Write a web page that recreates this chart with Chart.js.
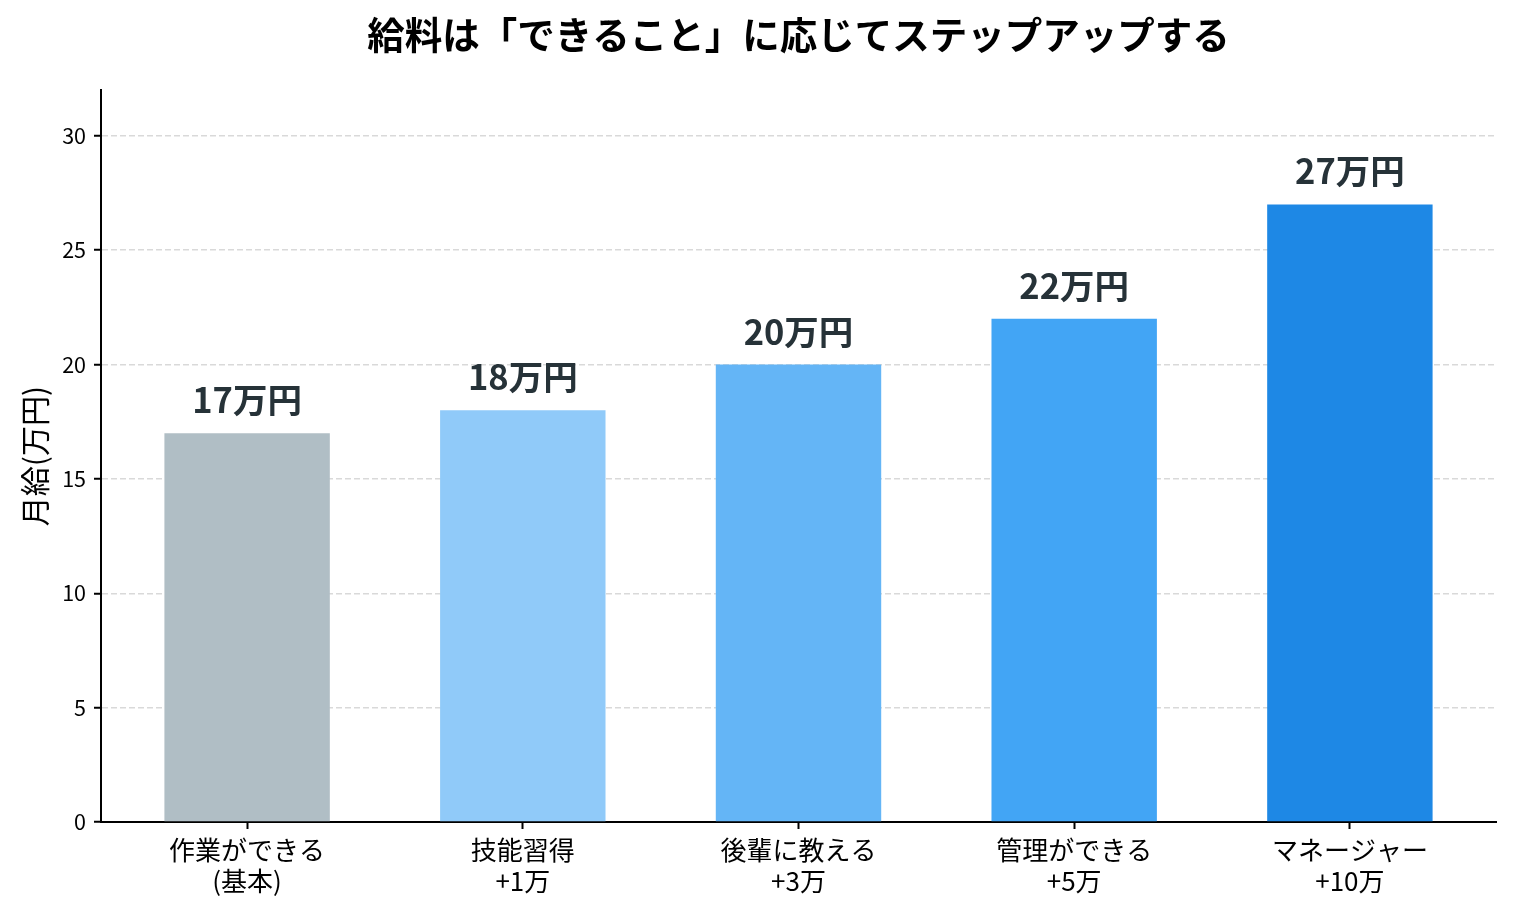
<!DOCTYPE html>
<html>
<head>
<meta charset="utf-8">
<script src="https://cdn.jsdelivr.net/npm/chart.js@4.4.1/dist/chart.umd.min.js"></script>
<style>
html,body{margin:0;padding:0;background:#fff;}
#wrap{width:1513px;height:914px;}
</style>
</head>
<body>
<div id="wrap"><canvas id="c" width="1513" height="914"></canvas></div>
<script>
const titleText = '給料は「できること」に応じてステップアップする';
const yAxisTitle = '月給(万円)';
const categories = [
  ['作業ができる', '(基本)'],
  ['技能習得', '+1万'],
  ['後輩に教える', '+3万'],
  ['管理ができる', '+5万'],
  ['マネージャー', '+10万']
];
const salaries = [17, 18, 20, 22, 27];
const valueLabels = ['17万円', '18万円', '20万円', '22万円', '27万円'];
const barColors = ['#B0BEC5', '#90CAF9', '#64B5F6', '#42A5F5', '#1E88E5'];
const yTicks = [0, 5, 10, 15, 20, 25, 30];

const FONT = "'Noto Sans CJK JP', 'Noto Sans', sans-serif";

const points = salaries.map((v, i) => ({x: i, y: v}));

const titlePlugin = {
  id: 'axTitle',
  afterDraw(chart) {
    const {ctx, chartArea} = chart;
    ctx.save();
    ctx.font = 'bold 37.5px ' + FONT;
    ctx.fillStyle = '#000';
    ctx.textAlign = 'center';
    ctx.textBaseline = 'middle';
    ctx.fillText(titleText, (chartArea.left + chartArea.right) / 2, 35);
    ctx.restore();
  }
};

const valueLabelPlugin = {
  id: 'valueLabels',
  afterDatasetsDraw(chart) {
    const {ctx} = chart;
    const meta = chart.getDatasetMeta(0);
    ctx.save();
    ctx.font = 'bold 34.5px ' + FONT;
    ctx.fillStyle = '#263238';
    ctx.textAlign = 'center';
    ctx.textBaseline = 'alphabetic';
    meta.data.forEach((bar, i) => {
      ctx.fillText(valueLabels[i], bar.x, bar.y - 20);
    });
    ctx.restore();
  }
};

new Chart(document.getElementById('c'), {
  type: 'bar',
  data: {
    datasets: [{
      data: points,
      backgroundColor: barColors,
      borderWidth: 0,
      barPercentage: 0.6,
      categoryPercentage: 1.0
    }]
  },
  options: {
    responsive: false,
    animation: false,
    devicePixelRatio: 1,
    layout: {padding: {top: 90, right: 17, left: 0, bottom: 0}},
    plugins: {
      legend: {display: false},
      tooltip: {enabled: false},
      title: {display: false}
    },
    scales: {
      x: {
        type: 'linear',
        offset: false,
        min: -0.53,
        max: 4.53,
        afterBuildTicks(scale) {
          scale.ticks = categories.map((c, i) => ({value: i}));
        },
        afterFit(scale) { scale.height = 92; },
        ticks: {
          color: '#000',
          font: {family: FONT, size: 26, lineHeight: 1.19},
          padding: 6,
          maxRotation: 0,
          autoSkip: false,
          callback: (v) => categories[v]
        },
        grid: {
          offset: false,
          drawOnChartArea: false,
          drawTicks: true,
          tickLength: 7,
          tickColor: '#000',
          tickWidth: 2
        },
        border: {display: true, color: '#000', width: 2}
      },
      y: {
        type: 'linear',
        min: 0,
        max: 32,
        afterBuildTicks(scale) {
          scale.ticks = yTicks.map(v => ({value: v}));
        },
        afterFit(scale) { scale.width = 101; },
        ticks: {
          color: '#000',
          font: {family: FONT, size: 21.5},
          padding: 8
        },
        grid: {
          color: '#d9d9d9',
          lineWidth: 1.5,
          tickLength: 7,
          tickColor: '#000',
          tickWidth: 2
        },
        border: {display: true, color: '#000', width: 2, dash: [6, 3]},
        title: {
          display: true,
          text: yAxisTitle,
          color: '#000',
          font: {family: FONT, size: 30},
          padding: {top: 17, bottom: 0}
        }
      }
    }
  },
  plugins: [titlePlugin, valueLabelPlugin]
});
</script>
</body>
</html>
